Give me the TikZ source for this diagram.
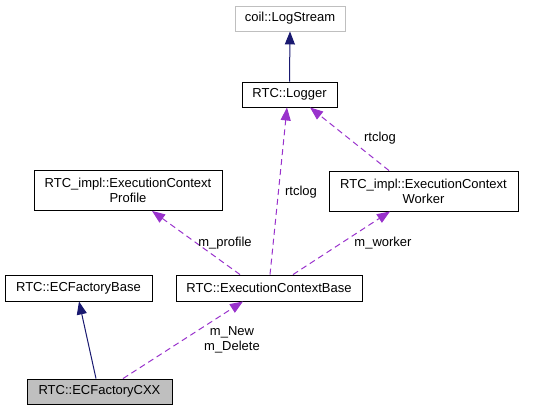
\documentclass[tikz,border=0pt]{standalone}
\usepackage{fontspec}
\setmainfont{Liberation Sans}
\usetikzlibrary{arrows.meta}
\definecolor{edgepurple}{RGB}{153,50,204}
\definecolor{edgenavy}{RGB}{25,25,112}
\definecolor{boxgray}{RGB}{191,191,191}
\tikzset{
  cls/.style={draw=black, line width=0.9bp, inner sep=0pt, align=center,
    font=\fontsize{13bp}{15bp}\selectfont},
  lbl/.style={inner sep=0pt, align=center, font=\fontsize{13bp}{15bp}\selectfont},
  inherit/.style={draw=edgenavy, line width=1bp, -{Triangle[length=13bp,width=10bp]}},
  usage/.style={draw=edgepurple, line width=1bp, dash pattern=on 6bp off 4bp,
    -{Triangle[length=13bp,width=10bp]}},
}
\begin{document}
\begin{tikzpicture}[x=1bp,y=-1bp]
\useasboundingbox (0,0) rectangle (537,411);
\node[cls, draw=boxgray, minimum width=110bp, minimum height=25bp] (ls) at (290,18.5) {coil::LogStream};
\node[cls, minimum width=95bp, minimum height=25bp] (log) at (289.5,94.5) {RTC::Logger};
\node[cls, minimum width=188bp, minimum height=40bp] (prof) at (128,190.5) {RTC\_impl::ExecutionContext\\Profile};
\node[cls, minimum width=189bp, minimum height=40bp] (work) at (423.5,191) {RTC\_impl::ExecutionContext\\Worker};
\node[cls, minimum width=147bp, minimum height=26bp] (ecfb) at (78.5,288) {RTC::ECFactoryBase};
\node[cls, minimum width=186bp, minimum height=26bp] (ecb) at (269,288) {RTC::ExecutionContextBase};
\node[cls, fill=boxgray, minimum width=145bp, minimum height=25bp] (cxx) at (99.5,391.5) {RTC::ECFactoryCXX};

\draw[inherit] (log.north) -- (ls.south);
\draw[usage] ([xshift=1bp]ecb.north) -- ([xshift=-2.5bp]log.south);
\draw[usage] ([xshift=-34.5bp]work.north) -- ([xshift=20.5bp]log.south);
\draw[usage] ([xshift=-29bp]ecb.north) -- ([xshift=24bp]prof.south);
\draw[usage] ([xshift=24bp]ecb.north) -- ([xshift=-33.5bp]work.south);
\draw[inherit] ([xshift=-3.5bp]cxx.north) -- ([xshift=0.5bp]ecfb.south);
\draw[usage] ([xshift=23.5bp]cxx.north) -- ([xshift=-26bp]ecb.south);

\node[lbl] (l1) at (301,192) {rtclog};
\node[lbl] (l2) at (380,138) {rtclog};
\node[lbl] (l3) at (225,243) {m\_profile};
\node[lbl] (l4) at (383,243) {m\_worker};
\node[lbl] (l5) at (232,339.5) {m\_New\\m\_Delete};
\end{tikzpicture}
\end{document}
